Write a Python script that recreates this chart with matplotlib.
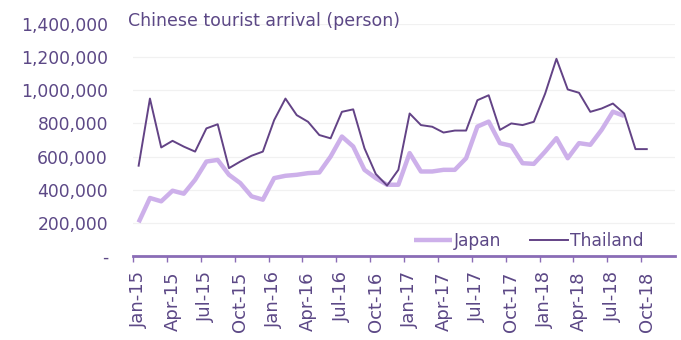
import matplotlib
matplotlib.use("Agg")
import matplotlib.pyplot as plt
import numpy as np
from matplotlib.ticker import FuncFormatter

# Monthly Chinese tourist arrivals, Jan-2015 onwards (persons)
months = ["Jan-15", "Feb-15", "Mar-15", "Apr-15", "May-15", "Jun-15", "Jul-15", "Aug-15",
          "Sep-15", "Oct-15", "Nov-15", "Dec-15", "Jan-16", "Feb-16", "Mar-16", "Apr-16",
          "May-16", "Jun-16", "Jul-16", "Aug-16", "Sep-16", "Oct-16", "Nov-16", "Dec-16",
          "Jan-17", "Feb-17", "Mar-17", "Apr-17", "May-17", "Jun-17", "Jul-17", "Aug-17",
          "Sep-17", "Oct-17", "Nov-17", "Dec-17", "Jan-18", "Feb-18", "Mar-18", "Apr-18",
          "May-18", "Jun-18", "Jul-18", "Aug-18", "Sep-18", "Oct-18", "Nov-18", "Dec-18"]

japan = [203000, 350000, 330000, 394000, 376000, 460000, 570000, 580000, 490000, 440000,
         360000, 340000, 470000, 484000, 490000, 500000, 504000, 600000, 721000, 661000,
         520000, 470000, 430000, 430000, 621000, 510000, 510000, 520000, 520000, 590000,
         781000, 811000, 681000, 665000, 560000, 556000, 630000, 711000, 590000, 681000,
         671000, 761000, 871000, 845000]

thailand = [545000, 950000, 655000, 695000, 660000, 630000, 770000, 795000, 530000, 570000,
            605000, 630000, 820000, 950000, 850000, 810000, 730000, 710000, 870000, 885000,
            650000, 495000, 425000, 520000, 860000, 790000, 780000, 745000, 757000, 757000,
            940000, 970000, 761000, 800000, 790000, 810000, 980000, 1190000, 1005000, 985000,
            870000, 890000, 920000, 860000, 645000, 645000]

label_step = 3
y_ticks = [0, 200000, 400000, 600000, 800000, 1000000, 1200000, 1400000]
title = "Chinese tourist arrival (person)"

TEXT = "#5c4886"
DARK = "#634386"
LIGHT = "#cdb0ea"
AXIS = "#8a6cb6"
GRID = "#f1f1f1"

plt.rcParams["font.family"] = ["DejaVu Sans"]

fig = plt.figure(figsize=(6.81, 3.40), dpi=100)
ax = fig.add_axes([133 / 681, 1 - 256 / 340, 542 / 681, 232 / 340])

ax.plot(np.arange(len(japan)), japan, color=LIGHT, lw=3.2, label="Japan",
        solid_joinstyle="round", solid_capstyle="butt", zorder=3)
ax.plot(np.arange(len(thailand)), thailand, color=DARK, lw=1.4, label="Thailand",
        solid_joinstyle="round", zorder=4)

ax.set_xlim(-0.5, len(months) - 0.5)
ax.set_ylim(0, 1400000)

# y axis: thousands separators, dash for zero
ax.set_yticks(y_ticks)
ax.yaxis.set_major_formatter(FuncFormatter(lambda v, p: "-" if v == 0 else f"{int(v):,}"))
ax.tick_params(axis="y", length=0, pad=18, labelsize=12.3, labelcolor=TEXT)
ax.grid(axis="y", color=GRID, lw=0.9, zorder=0)

# x axis: labels on every third month, tick marks between categories
label_pos = np.arange(0, len(thailand), label_step)
ax.set_xticks(label_pos)
ax.set_xticklabels([months[i] for i in label_pos], rotation=90)
ax.tick_params(axis="x", length=0, pad=11, labelsize=13, labelcolor=TEXT)
ax.set_xticks(np.arange(-0.5, len(thailand) - 0.5, label_step), minor=True)
ax.tick_params(axis="x", which="minor", length=4, width=1.0, color=AXIS, direction="out")

for side in ["top", "right", "left"]:
    ax.spines[side].set_visible(False)
ax.spines["bottom"].set_color(AXIS)
ax.spines["bottom"].set_linewidth(2.0)

fig.text(128 / 681, 1 - 21 / 340, title, color=TEXT, fontsize=12.5, va="center", ha="left")

leg = ax.legend(loc="center right", bbox_to_anchor=(0.941, 0.065), ncol=2, frameon=False,
                fontsize=12.3, handlelength=2.2, handletextpad=0.1, columnspacing=1.7,
                borderpad=0, borderaxespad=0)
for t in leg.get_texts():
    t.set_color(TEXT)

fig.savefig("out.png", dpi=100, facecolor="white")
